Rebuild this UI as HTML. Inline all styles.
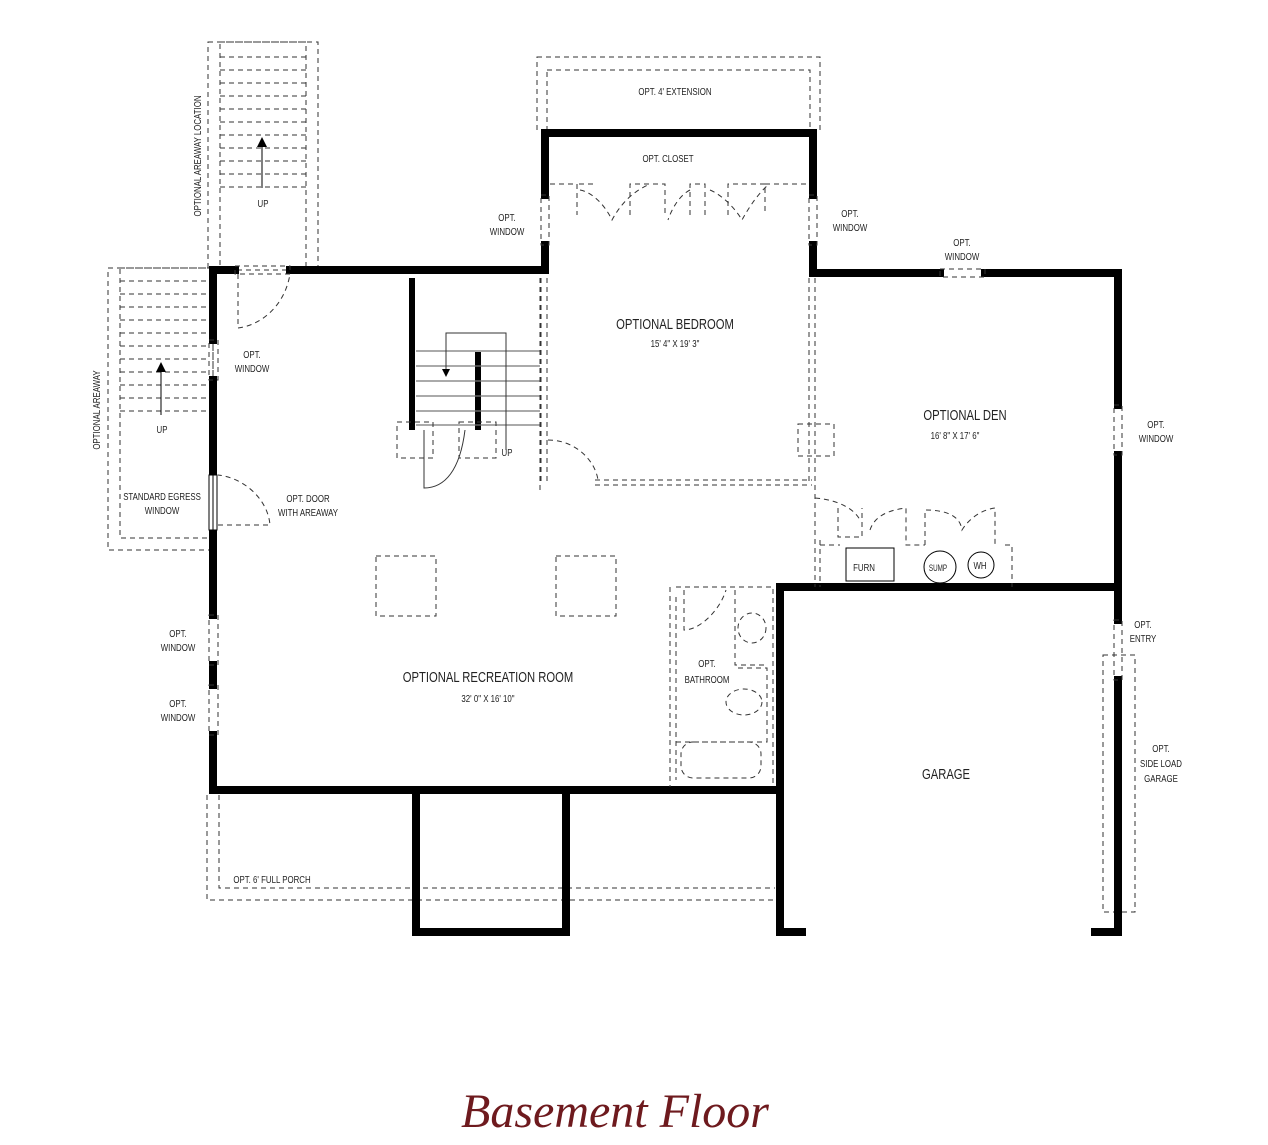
<!DOCTYPE html>
<html><head><meta charset="utf-8"><style>
html,body{margin:0;padding:0;background:#fff;}
svg{display:block;}
text{font-family:"Liberation Sans",sans-serif;fill:#222;text-anchor:middle;}
.l{font-size:10.5px;}
.b{font-size:15px;}
.d{fill:none;stroke:#333;stroke-width:1;stroke-dasharray:5,4;}
.s{fill:none;stroke:#333;stroke-width:1;}
.w{fill:none;stroke:#000;stroke-width:8;stroke-linecap:square;}
</style></head><body>
<svg width="1268" height="1145" viewBox="0 0 1268 1145" xmlns="http://www.w3.org/2000/svg">
<!-- top areaway -->
<rect class="d" x="208" y="42" width="110" height="228"/>
<rect class="d" x="220" y="42" width="86" height="228"/>
<path class="d" d="M220 57H306M220 70H306M220 83H306M220 96H306M220 109H306M220 122H306M220 135H306M220 148H306M220 161H306M220 174H306M220 187H306"/>
<line x1="262" y1="188" x2="262" y2="145" stroke="#000"/>
<polygon points="262,137 257,147 267,147" fill="#000"/>
<text class="l" transform="translate(263 207) scale(.75 1)">UP</text>
<text class="l" transform="translate(201,156) rotate(-90) scale(.75 1)">OPTIONAL AREAWAY LOCATION</text>
<!-- left areaway -->
<rect class="d" x="108" y="268" width="105" height="282"/>
<rect class="d" x="120" y="268" width="93" height="270"/>
<path class="d" d="M120 281H210M120 294H210M120 307H210M120 320H210M120 333H210M120 346H210M120 359H210M120 372H210M120 385H210M120 398H210M120 411H210"/>
<line x1="161" y1="415" x2="161" y2="370" stroke="#000"/>
<polygon points="161,362 156,372 166,372" fill="#000"/>
<text class="l" transform="translate(162 433) scale(.75 1)">UP</text>
<text class="l" transform="translate(100,410) rotate(-90) scale(.75 1)">OPTIONAL AREAWAY</text>
<text class="l" transform="translate(162 500) scale(.75 1)">STANDARD EGRESS</text>
<text class="l" transform="translate(162 514) scale(.75 1)">WINDOW</text>
<!-- extension -->
<rect class="d" x="537" y="57" width="283" height="73"/>
<rect class="d" x="547" y="70" width="263" height="60"/>
<text class="l" transform="translate(675 95) scale(.75 1)">OPT. 4' EXTENSION</text>
<!-- porch -->
<path class="d" d="M207 795V900H775M219 795V888H775"/>
<text class="l" transform="translate(272 883) scale(.75 1)">OPT. 6' FULL PORCH</text>
<!-- side load garage -->
<rect class="d" x="1103" y="655" width="32" height="257"/>
<!-- walls -->
<g class="w">
<path d="M213 270H235M290 270H545V245M545 195V133H813V195M813 245V273H940M985 273H1118V405M1118 455V587"/>
<path d="M213 274V340M213 380V475M213 530V615M213 665V685M213 735V790H780"/>
<path d="M780 587H1118M780 587V932H802M1118 620V587M1118 680V932H1095"/>
<path d="M416 790V932H566V790"/>
</g>
<line x1="412" y1="278" x2="412" y2="430" stroke="#000" stroke-width="6"/>
<line x1="478" y1="352" x2="478" y2="430" stroke="#000" stroke-width="6"/>
<g class="d">
<rect x="209" y="340" width="9" height="40"/><rect x="209" y="615" width="9" height="50"/><rect x="209" y="685" width="9" height="50"/>
<rect x="541" y="195" width="8" height="50"/><rect x="809" y="195" width="8" height="50"/>
<rect x="940" y="269" width="45" height="8"/><rect x="1114" y="405" width="8" height="50"/>
<rect x="1114" y="620" width="8" height="60"/>
<rect x="235" y="266" width="55" height="8"/>
</g>
<rect x="209" y="475" width="8" height="55" fill="#fff" stroke="#000"/>
<line x1="213" y1="475" x2="213" y2="530" stroke="#000"/>
<path class="d" d="M238 274V328C262 325 285 305 290 274"/>
<path class="d" d="M218 525H270C268 500 245 478 218 475"/>
<!-- labels -->
<g class="l">
<text transform="translate(252 358) scale(.75 1)">OPT.</text><text transform="translate(252 372) scale(.75 1)">WINDOW</text>
<text transform="translate(308 502) scale(.75 1)">OPT. DOOR</text><text transform="translate(308 516) scale(.75 1)">WITH AREAWAY</text>
<text transform="translate(178 637) scale(.75 1)">OPT.</text><text transform="translate(178 651) scale(.75 1)">WINDOW</text>
<text transform="translate(178 707) scale(.75 1)">OPT.</text><text transform="translate(178 721) scale(.75 1)">WINDOW</text>
<text transform="translate(507 221) scale(.75 1)">OPT.</text><text transform="translate(507 235) scale(.75 1)">WINDOW</text>
<text transform="translate(850 217) scale(.75 1)">OPT.</text><text transform="translate(850 231) scale(.75 1)">WINDOW</text>
<text transform="translate(962 246) scale(.75 1)">OPT.</text><text transform="translate(962 260) scale(.75 1)">WINDOW</text>
<text transform="translate(1156 428) scale(.75 1)">OPT.</text><text transform="translate(1156 442) scale(.75 1)">WINDOW</text>
<text transform="translate(1143 628) scale(.75 1)">OPT.</text><text transform="translate(1143 642) scale(.75 1)">ENTRY</text>
<text transform="translate(1161 752) scale(.75 1)">OPT.</text><text transform="translate(1161 767) scale(.75 1)">SIDE LOAD</text><text transform="translate(1161 782) scale(.75 1)">GARAGE</text>
<text transform="translate(668 162) scale(.75 1)">OPT. CLOSET</text>
<text transform="translate(675 347) scale(.75 1)">15' 4" X 19' 3"</text>
<text transform="translate(955 439) scale(.75 1)">16' 8" X 17' 6"</text>
<text transform="translate(488 702) scale(.75 1)">32' 0" X 16' 10"</text>
<text transform="translate(707 667) scale(.75 1)">OPT.</text><text transform="translate(707 683) scale(.75 1)">BATHROOM</text>
</g>
<g class="b">
<text transform="translate(675 329) scale(.75 1)">OPTIONAL BEDROOM</text>
<text transform="translate(965 420) scale(.75 1)">OPTIONAL DEN</text>
<text transform="translate(488 682) scale(.75 1)">OPTIONAL RECREATION ROOM</text>
<text transform="translate(946 779) scale(.75 1)">GARAGE</text>
</g>
<!-- closet -->
<g class="d">
<path d="M550 184H577V215M593 184H577M630 215V184H665V215M690 215V184H705V215M728 215V184H765V215M765 184H808"/>
<path d="M580 190C592 192 605 205 612 220C620 205 632 192 648 185M690 190C680 195 672 208 668 220M710 190C722 195 735 208 742 220C750 205 760 192 768 185"/>
</g>
<g class="d">
<path d="M541 278V485M547 278V485M809 278V485M815 278V587"/>
<path d="M595 485H812M595 480H812"/>
<path d="M548 440C575 440 595 460 598 480"/>
<rect x="798" y="424" width="36" height="32"/>
</g>
<!-- stairs -->
<g stroke="#777" stroke-width="1.2">
<path d="M416 351H540M416 366H540M416 381H540M416 396H540M416 411H540M416 425H540"/>
</g>
<path d="M446 373V333H506V450" class="s"/>
<polygon points="446,377 442,369 450,369" fill="#000"/>
<text class="l" transform="translate(507 456) scale(.75 1)">UP</text>
<path class="d" d="M397 422H433V458H397ZM459 422H496V458H459Z"/>
<path d="M424 430V488C445 488 460 470 465 430" class="s"/>
<path d="M540 278V490" class="d"/>
<rect class="d" x="376" y="556" width="60" height="60"/>
<rect class="d" x="556" y="556" width="60" height="60"/>
<!-- bathroom -->
<g class="d">
<path d="M670 587V787M676 587H773V787M684 590V630C700 630 720 610 726 590"/>
<path d="M735 590V665H767M738 668H767V742H676"/>
<rect x="681" y="742" width="80" height="36" rx="12"/>
<ellipse cx="752" cy="628" rx="14" ry="15"/>
<ellipse cx="744" cy="702" rx="18" ry="13"/>
<path d="M676 597V780"/>
</g>
<!-- furnace area -->
<g class="d">
<path d="M815 498C840 500 855 510 860 520M838 508V537H862V508M870 530C875 515 890 510 906 508V545H925M925 545V510C945 510 960 515 962 530C968 520 980 510 995 508V545M1005 545H1012V587"/>
<path d="M820 545H840M820 540V587"/>
</g>
<rect x="846" y="548" width="48" height="33" fill="none" stroke="#000"/>
<text class="l" transform="translate(864 571) scale(.75 1)">FURN</text>
<circle cx="940" cy="567" r="16" fill="none" stroke="#000"/>
<text class="l" transform="translate(938 571) scale(.7 1)" style="font-size:9px">SUMP</text>
<circle cx="981" cy="565" r="13" fill="none" stroke="#000"/>
<text class="l" transform="translate(980 569) scale(.75 1)">WH</text>
<text x="615" y="1127" style="font-family:'Liberation Serif',serif;font-style:italic;font-size:48px;fill:#6e1a1e;">Basement Floor</text>
</svg>
</body></html>
